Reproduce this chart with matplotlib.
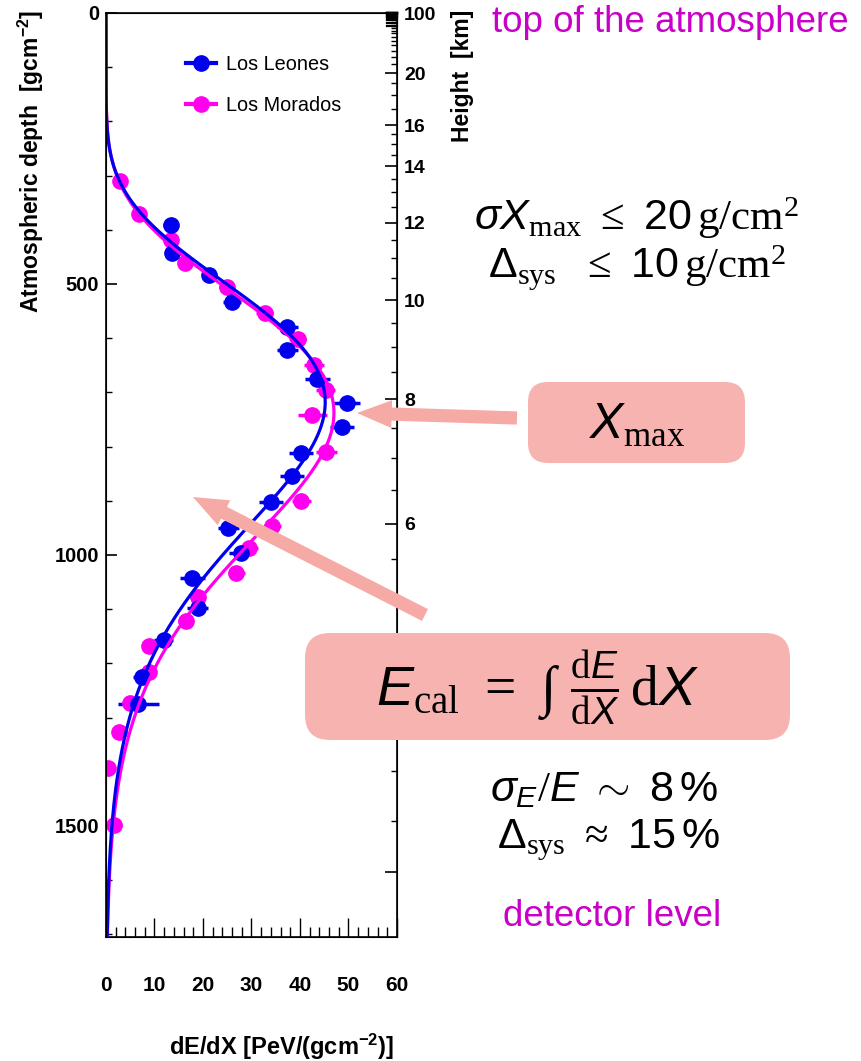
import numpy as np
import matplotlib.pyplot as plt
from matplotlib.lines import Line2D
from matplotlib.patches import FancyBboxPatch, FancyArrowPatch
from matplotlib.ticker import MultipleLocator

plt.rcParams['font.family'] = ['Liberation Sans', 'DejaVu Sans']
plt.rcParams['mathtext.fontset'] = 'custom'
plt.rcParams['mathtext.rm'] = 'Liberation Serif'
plt.rcParams['mathtext.it'] = 'Liberation Sans:italic'
plt.rcParams['mathtext.sf'] = 'Liberation Sans'
plt.rcParams['mathtext.bf'] = 'Liberation Sans:bold'

# Los Leones longitudinal profile
leones_depth = [391, 443, 483, 533, 579, 622, 676, 719, 764, 811, 854, 902,
                951, 997, 1043, 1098, 1157, 1225, 1275]
leones_dedx = [13.3, 13.6, 21.3, 26.0, 37.4, 37.4, 43.6, 49.6, 48.7, 40.2,
               38.4, 34.0, 25.2, 27.9, 17.8, 18.9, 11.9, 7.5, 6.7]
leones_err = [1.5, 1.5, 1.5, 1.8, 2.2, 2.2, 2.5, 2.8, 2.5, 2.5, 2.5, 2.5,
              2.2, 2.6, 2.6, 2.2, 2.0, 2.0, 4.3]

# Los Morados longitudinal profile
morados_depth = [310, 370, 418, 462, 506, 554, 601, 650, 696, 742, 810, 901,
                 946, 987, 1034, 1077, 1121, 1168, 1216, 1274, 1326, 1394, 1498]
morados_dedx = [2.9, 6.9, 13.4, 16.2, 24.9, 32.7, 39.5, 42.9, 45.3, 42.5,
                45.4, 40.3, 34.3, 29.5, 26.9, 18.9, 16.4, 8.9, 8.8, 5.0,
                2.7, 0.5, 1.6]
morados_err = [1.2, 1.2, 1.2, 1.2, 1.5, 1.8, 1.8, 2.0, 2.0, 3.0, 2.2, 2.0,
               1.8, 1.8, 1.8, 1.5, 1.5, 1.5, 1.5, 1.5, 1.2, 1.2, 1.6]

# Gaisser-Hillas fit parameters (Emax, Xmax, lambda, X0)
leones_fit = (45.2, 718.0, 70.0, 0.0)
morados_fit = (47.0, 738.0, 66.0, -50.0)

# height axis
height_major = [100, 20, 16, 14, 12, 10, 8, 6, 4, 2]
height_labels = ['100', '20', '16', '14', '12', '10', '8', '6', '', '']
height_minor = ([2.5, 3, 3.5, 4.5, 5, 5.5, 6.5, 7, 7.5, 8.5, 9, 9.5, 10.5, 11,
                 11.5, 12.5, 13, 13.5, 14.5, 15, 15.5, 17, 18, 19, 21, 22,
                 23, 24, 25, 26, 27, 28, 29, 30, 32, 34, 36, 38, 40, 45, 50,
                 55, 60, 70, 80, 90])
height_dense = [30, 32, 34, 36, 38, 40, 45, 50, 55, 60, 70, 80, 90]
sec_theta = 1.95

LEONES = '#0000ee'
MORADOS = '#ff00ee'
BOX = '#f7b3af'
ARROW = '#f5aaa5'
MAGENTA = '#c800c8'


def gaisser_hillas(X, emax, xmax, lam, x0):
    t = np.clip((X - x0) / (xmax - x0), 1e-9, None)
    return emax * t ** ((xmax - x0) / lam) * np.exp((xmax - X) / lam)


def slant_depth(h_km):
    """US standard atmosphere (Linsley), slant depth along the shower axis"""
    h = np.asarray(h_km, dtype=float) * 1e5
    vert = np.select(
        [h < 4e5, h < 1e6, h < 4e6, h < 1e7],
        [-186.555305 + 1222.6562 * np.exp(-h / 994186.38),
         -94.919 + 1144.9069 * np.exp(-h / 878153.55),
         0.61289 + 1305.5948 * np.exp(-h / 636143.04),
         540.1778 * np.exp(-h / 772170.16)],
        0.0)
    return sec_theta * vert


fig = plt.figure(figsize=(8.62, 10.61), dpi=100)
ax = fig.add_axes([106 / 862, 1 - 937 / 1061, 291 / 862, 924 / 1061])

ax.errorbar(morados_dedx, morados_depth, xerr=morados_err, fmt='o',
            color=MORADOS, ms=11, elinewidth=2.5, capsize=0, zorder=3)
ax.errorbar(leones_dedx, leones_depth, xerr=leones_err, fmt='o',
            color=LEONES, ms=11, elinewidth=2.5, capsize=0, zorder=3)

X = np.linspace(0, 1705, 800)
ax.plot(gaisser_hillas(X, *morados_fit), X, color=MORADOS, lw=2.3, zorder=4)
ax.plot(gaisser_hillas(X, *leones_fit), X, color=LEONES, lw=2.3, zorder=4)

ax.set_xlim(0, 60)
ax.set_ylim(1705, 0)
ax.set_xticks(range(0, 61, 10))
ax.xaxis.set_minor_locator(MultipleLocator(2))
ax.set_yticks([0, 500, 1000, 1500])
ax.yaxis.set_minor_locator(MultipleLocator(100))
ax.tick_params(axis='x', which='major', direction='in', length=14, width=1,
               pad=28, labelsize=15)
ax.tick_params(axis='x', which='minor', direction='in', length=7, width=1)
ax.tick_params(axis='y', which='major', direction='in', length=8, width=1.2,
               pad=5, labelsize=14.5)
ax.tick_params(axis='y', which='minor', direction='in', length=4, width=1)
for lab in ax.get_xticklabels() + ax.get_yticklabels():
    lab.set_fontweight('bold')
for sp in ax.spines.values():
    sp.set_linewidth(1.2)

ax2 = ax.twinx()
ax2.set_ylim(1705, 0)
ax2.set_yticks(slant_depth(height_major), height_labels, fontweight='bold')
ax2.set_yticks(slant_depth(height_minor), minor=True)
ax2.tick_params(axis='y', which='major', direction='in', length=9, width=1.2,
                pad=5, labelsize=14)
ax2.tick_params(axis='y', which='minor', direction='in', length=4.5, width=1)
# the crowded high-altitude ticks merge into a solid block
for d in slant_depth(height_dense):
    ax2.plot([0.965, 1.0], [d, d], color='black', lw=1.6,
             transform=ax2.get_yaxis_transform(), clip_on=False)

handles = [Line2D([], [], color=LEONES, lw=3, marker='o', ms=11),
           Line2D([], [], color=MORADOS, lw=3, marker='o', ms=11)]
ax.legend(handles, ['Los Leones', 'Los Morados'], loc='upper left',
          bbox_to_anchor=(0.24, 0.965), frameon=False, fontsize=14.3,
          handlelength=1.5, handletextpad=0.55, labelspacing=1.1,
          numpoints=1, borderpad=0)

T = fig.dpi_scale_trans


def px(x, y):
    return (x / 100, (1061 - y) / 100)


fig.text(*px(31, 10), 'Atmospheric depth  [gcm$^{\\mathbf{-2}}$]',
         rotation=90, ha='center', va='top', fontsize=16.5,
         fontweight='bold', transform=T)
fig.text(*px(462, 10), 'Height  [km]', rotation=90, ha='center', va='top',
         fontsize=16.5, fontweight='bold', transform=T)
fig.text(*px(282, 1047), 'dE/dX [PeV/(gcm$^{\\mathbf{-2}}$)]', ha='center',
         va='center', fontsize=17, fontweight='bold', transform=T)

# annotations
for tail, head in [((517, 418), (357, 413)), ((425, 615), (193, 497))]:
    fig.add_artist(FancyArrowPatch(
        px(*tail), px(*head), transform=T, color=ARROW, lw=0,
        arrowstyle='simple,head_length=2.5,head_width=2.0,tail_width=0.95',
        mutation_scale=10, shrinkA=0, shrinkB=0))

fig.add_artist(FancyBboxPatch(px(528, 463), 2.17, 0.81, transform=T,
                              boxstyle='round,pad=0,rounding_size=0.2',
                              fc=BOX, ec='none'))
fig.add_artist(FancyBboxPatch(px(305, 740), 4.85, 1.07, transform=T,
                              boxstyle='round,pad=0,rounding_size=0.25',
                              fc=BOX, ec='none'))

fig.text(*px(670, 22), 'top of the atmosphere', ha='center', va='center',
         fontsize=26.5, color=MAGENTA, transform=T)
fig.text(*px(612, 917), 'detector level', ha='center', va='center',
         fontsize=26.5, color=MAGENTA, transform=T)
fig.text(*px(637, 218),
         r'$\sigma X_{\rm max}\ \leq\ \mathsf{20}\,{\rm g/cm^2}$',
         ha='center', va='center', fontsize=31, transform=T)
fig.text(*px(637, 268),
         r'$\mathsf{\Delta}_{\rm sys}\ \ \leq\ \mathsf{10}\,{\rm g/cm^2}$',
         ha='center', va='center', fontsize=31, transform=T)
fig.text(*px(637, 425), r'$X_{\rm max}$', ha='center', va='center',
         fontsize=36, transform=T)
fig.text(*px(538, 688),
         r'$E_{\rm cal}\ =\ \int\ \frac{{\rm d}E}{{\rm d}X}\,{\rm d}X$',
         ha='center', va='center', fontsize=40, transform=T)
fig.text(*px(604, 790), r'$\sigma_E/E\ \sim\ \mathsf{8\,\%}$',
         ha='center', va='center', fontsize=31, transform=T)
fig.text(*px(608, 840), r'$\mathsf{\Delta}_{\rm sys}\ \approx\ \mathsf{15\,\%}$',
         ha='center', va='center', fontsize=31, transform=T)

fig.savefig('out.png', dpi=100)
